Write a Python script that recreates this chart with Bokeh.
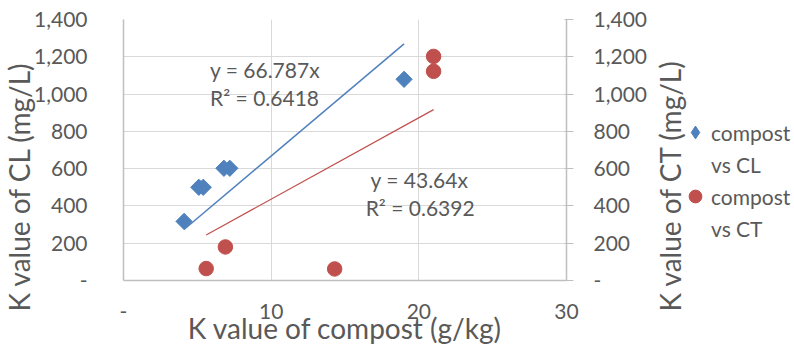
import math
from bokeh.plotting import figure
from bokeh.layouts import row
from bokeh.models import (Range1d, LinearAxis, CustomJSTickFormatter, Label, Legend,
                          LegendItem, FixedTicker, Title)
from bokeh.embed import file_html
from bokeh.resources import INLINE

# ---- data ----
cl_x = [4.1, 5.1, 5.4, 6.8, 7.2, 19.0]
cl_y = [317, 500, 500, 602, 602, 1079]
ct_x = [5.6, 6.9, 14.3, 21.0, 21.0]
ct_y = [64, 180, 62, 1202, 1122]
cl_slope, cl_r2 = 66.787, 0.6418
ct_slope, ct_r2 = 43.64, 0.6392
x_ticks = [0, 10, 20, 30]
y_ticks = [0, 200, 400, 600, 800, 1000, 1200, 1400]
series_lines = [["compost", "vs CL"], ["compost", "vs CT"]]
x_title = "K value of compost (g/kg)"
y_title = "K value of CL (mg/L)"
y2_title = "K value of CT (mg/L)"

BLUE = "#4F81BD"
RED = "#C0504D"
TXT = "#595959"
FONT = "Lato"
TICK_FS = "21px"
TITLE_FS = "28px"

TOP, BOTTOM = 19, 66

# ---------------- main chart ----------------
p = figure(width=649, height=347, output_backend="svg", toolbar_location=None,
           x_range=Range1d(0, 30), y_range=Range1d(0, 1400),
           min_border_left=123, min_border_right=80, min_border_top=TOP,
           min_border_bottom=BOTTOM)
p.outline_line_color = None
p.background_fill_color = "white"
p.border_fill_color = "white"

fmt = CustomJSTickFormatter(code="return tick == 0 ? '-' : tick.toLocaleString('en-US');")

xa = p.xaxis[0]
xa.ticker = FixedTicker(ticks=x_ticks)
xa.formatter = fmt
xa.axis_line_color = "#BFBFBF"
xa.axis_line_width = 1.5
xa.major_tick_line_color = None
xa.minor_tick_line_color = None
xa.major_label_standoff = 17
xa.major_label_text_font = FONT
xa.major_label_text_font_size = TICK_FS
xa.major_label_text_color = TXT
xa.axis_label = x_title
xa.axis_label_standoff = -11
xa.axis_label_text_font = FONT
xa.axis_label_text_font_size = TITLE_FS
xa.axis_label_text_font_style = "normal"
xa.axis_label_text_color = TXT

ya = p.yaxis[0]
ya.ticker = FixedTicker(ticks=y_ticks)
ya.formatter = fmt
ya.axis_line_color = "#BFBFBF"
ya.axis_line_width = 1.5
ya.major_tick_line_color = None
ya.minor_tick_line_color = None
ya.major_label_standoff = 30
ya.major_label_text_font = FONT
ya.major_label_text_font_size = TICK_FS
ya.major_label_text_color = TXT

# left axis title: starts a little below the frame, as in the reference
p.add_layout(Title(text=y_title, align="left", offset=-31, standoff=-8,
                   text_font=FONT, text_font_size=TITLE_FS, text_font_style="normal",
                   text_color=TXT), "left")

ra = LinearAxis(ticker=FixedTicker(ticks=y_ticks), formatter=fmt)
ra.axis_line_color = "#BFBFBF"
ra.axis_line_width = 1.5
ra.major_tick_line_color = "#BFBFBF"
ra.major_tick_out = 7
ra.major_tick_in = 2
ra.minor_tick_line_color = None
ra.major_label_standoff = 20
ra.major_label_text_font = FONT
ra.major_label_text_font_size = TICK_FS
ra.major_label_text_color = TXT
p.add_layout(ra, "right")

p.xgrid.ticker = FixedTicker(ticks=x_ticks)
p.ygrid.ticker = FixedTicker(ticks=y_ticks)
p.xgrid.grid_line_color = "#D9D9D9"
p.ygrid.grid_line_color = "#D9D9D9"

cl_fx = [min(cl_x), max(cl_x)]
ct_fx = [min(ct_x), max(ct_x)]
p.line(cl_fx, [cl_slope * v for v in cl_fx], line_color=BLUE, line_width=1.5)
p.line(ct_fx, [ct_slope * v for v in ct_fx], line_color=RED, line_width=1.2)

p.scatter(cl_x, cl_y, marker="square", angle=math.pi / 4, size=11.5,
          fill_color=BLUE, line_color=BLUE)
p.scatter(ct_x, ct_y, marker="circle", size=14.5, fill_color=RED, line_color=RED)

def eq_label(x, y, text):
    p.add_layout(Label(x=x, y=y, text=text, text_font=FONT, text_font_size=TICK_FS,
                       text_color=TXT, text_align="left", text_baseline="middle"))

eq_label(5.86, 1133, f"y = {cl_slope}x")
eq_label(5.86, 983, f"R² = {cl_r2}")
eq_label(16.73, 540, f"y = {ct_slope}x")
eq_label(16.4, 390, f"R² = {ct_r2}")

# ---------------- side panel: secondary-axis title + legend ----------------
s = figure(width=145, height=347, output_backend="svg", toolbar_location=None,
           x_range=Range1d(0, 1), y_range=Range1d(0, 1),
           min_border_left=30, min_border_right=0, min_border_top=TOP,
           min_border_bottom=BOTTOM)
s.outline_line_color = None
s.background_fill_color = "white"
s.border_fill_color = "white"
s.grid.visible = False
s.xaxis.visible = False
s.yaxis.visible = False

s.add_layout(Title(text=y2_title, align="left", offset=-31, standoff=-15,
                   text_font=FONT, text_font_size=TITLE_FS, text_font_style="normal",
                   text_color=TXT), "left")

# legend glyph renderers (their points lie outside this panel's ranges)
l1 = s.scatter(cl_x, cl_y, marker="diamond", size=12, fill_color=BLUE, line_color=BLUE)
l2 = s.scatter(ct_x, ct_y, marker="circle", size=14.5, fill_color=RED, line_color=RED)

legend = Legend(items=[LegendItem(label=series_lines[0][0], renderers=[l1]),
                       LegendItem(label=series_lines[0][1], renderers=[]),
                       LegendItem(label=series_lines[1][0], renderers=[l2]),
                       LegendItem(label=series_lines[1][1], renderers=[])],
                location=(0, 36), border_line_color=None, background_fill_alpha=0,
                label_text_font=FONT, label_text_font_size=TICK_FS, label_text_color=TXT,
                glyph_width=32, glyph_height=32, spacing=0, padding=0, margin=0,
                label_standoff=0)
s.add_layout(legend)

open("out.html", "w").write(file_html(row(p, s), INLINE))
